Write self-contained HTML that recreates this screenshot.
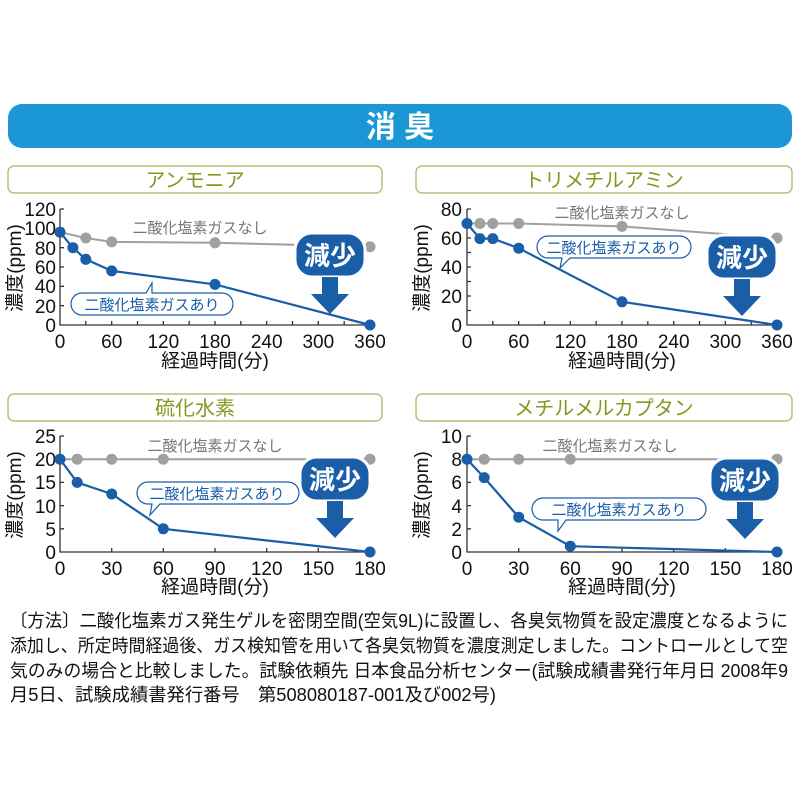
<!DOCTYPE html>
<html><head><meta charset="utf-8"><style>
html,body{margin:0;padding:0;background:#fff;width:800px;height:800px;overflow:hidden}
svg{display:block}
text{font-family:"Liberation Sans","Noto Sans CJK JP",sans-serif}
.t{font-size:19px;fill:#111}
.ax{stroke:#333;stroke-width:1.3;fill:none}
.g{stroke:#a0a0a0;stroke-width:2;fill:none}
.b{stroke:#1a5ea8;stroke-width:2.2;fill:none}
.gc{fill:#a0a0a0}
.bc{fill:#1a5ea8}
.ttl{font-size:20px;fill:#7f9a1e;text-anchor:middle}
.box{fill:#fff;stroke:#b8c07a;stroke-width:1.5}
.lab{font-size:15px;fill:#777;text-anchor:middle}
.blab{font-size:15px;fill:#1a5ea8;text-anchor:middle}
.bub{fill:#fff;stroke:#1a5ea8;stroke-width:1.2}
.foot{font-size:18px;fill:#111}
</style></head><body>
<svg width="800" height="800" viewBox="0 0 800 800" xmlns="http://www.w3.org/2000/svg">
<defs>
<g id="genshou">
  <rect x="-35" y="-23" width="70" height="44" rx="17" fill="#1a5ea8" stroke="#fff" stroke-width="3"/>
  <text x="0" y="9" font-size="26" font-weight="bold" fill="#fff" text-anchor="middle">減少</text>
  <path d="M-8,21 L8,21 L8,38 L19,38 L0,58 L-19,38 L-8,38 Z" fill="#1a5ea8"/>
</g>
</defs>
<rect x="8" y="104" width="784" height="44" rx="14" fill="#1b97d6"/>
<text x="400" y="137" font-size="30" font-weight="bold" fill="#fff" text-anchor="middle">消 臭</text>

<!-- Chart 1 -->
<rect class="box" x="8" y="166" width="374" height="27" rx="6"/>
<text class="ttl" x="195" y="187">アンモニア</text>
<path class="ax" d="M60,209 V325 H370"/>
<path class="ax" d="M60,305.7h4M60,286.3h4M60,267h4M60,247.7h4M60,228.3h4M60,209h4M85.8,325v-4M111.7,325v-4M137.5,325v-4M163.3,325v-4M189.2,325v-4M215,325v-4M240.8,325v-4M266.7,325v-4M292.5,325v-4M318.3,325v-4M344.2,325v-4"/>
<g class="t" text-anchor="end"><text x="56" y="332">0</text><text x="56" y="313">20</text><text x="56" y="293">40</text><text x="56" y="274">60</text><text x="56" y="255">80</text><text x="56" y="235">100</text><text x="56" y="216">120</text></g>
<g class="t" text-anchor="middle"><text x="60" y="348">0</text><text x="111.7" y="348">60</text><text x="163.3" y="348">120</text><text x="215" y="348">180</text><text x="266.7" y="348">240</text><text x="318.3" y="348">300</text><text x="370" y="348">360</text>
<text x="215" y="367">経過時間(分)</text></g>
<text class="t" transform="translate(21,268) rotate(-90)" text-anchor="middle">濃度(ppm)</text>
<polyline class="g" points="60,232.2 85.8,238 111.7,241.9 215,242.8 370,246.7"/>
<g class="gc"><circle cx="85.8" cy="238" r="5.5"/><circle cx="111.7" cy="241.9" r="5.5"/><circle cx="215" cy="242.8" r="5.5"/><circle cx="370" cy="246.7" r="5.5"/></g>
<polyline class="b" points="60,232.2 72.9,247.7 85.8,259.3 111.7,270.9 215,284.4 370,325"/>
<g class="bc"><circle cx="60" cy="232.2" r="5.5"/><circle cx="72.9" cy="247.7" r="5.5"/><circle cx="85.8" cy="259.3" r="5.5"/><circle cx="111.7" cy="270.9" r="5.5"/><circle cx="215" cy="284.4" r="5.5"/><circle cx="370" cy="325" r="5.5"/></g>
<text class="lab" x="200" y="233">二酸化塩素ガスなし</text>
<path class="bub" d="M82,293 H146 L152,283 L152,293 H222 a10,10 0 0 1 0,22 H82 a10,10 0 0 1 0,-22 Z"/>
<text class="blab" x="152" y="310">二酸化塩素ガスあり</text>
<use href="#genshou" x="330" y="256"/>

<!-- Chart 2 -->
<rect class="box" x="416" y="166" width="376" height="27" rx="6"/>
<text class="ttl" x="604" y="187">トリメチルアミン</text>
<path class="ax" d="M467,209 V325 H777"/>
<path class="ax" d="M467,310.5h4M467,296h4M467,281.5h4M467,267h4M467,252.5h4M467,238h4M467,223.5h4M467,209h4M492.8,325v-4M518.7,325v-4M544.5,325v-4M570.3,325v-4M596.2,325v-4M622,325v-4M647.8,325v-4M673.7,325v-4M699.5,325v-4M725.3,325v-4M751.2,325v-4"/>
<g class="t" text-anchor="end"><text x="462" y="332">0</text><text x="462" y="303">20</text><text x="462" y="274">40</text><text x="462" y="245">60</text><text x="462" y="216">80</text></g>
<g class="t" text-anchor="middle"><text x="467" y="348">0</text><text x="518.7" y="348">60</text><text x="570.3" y="348">120</text><text x="622" y="348">180</text><text x="673.7" y="348">240</text><text x="725.3" y="348">300</text><text x="777" y="348">360</text>
<text x="622" y="367">経過時間(分)</text></g>
<text class="t" transform="translate(428,268) rotate(-90)" text-anchor="middle">濃度(ppm)</text>
<polyline class="g" points="467,223.5 479.9,223.5 492.8,223.5 518.7,223.5 622,226.4 777,238"/>
<g class="gc"><circle cx="479.9" cy="223.5" r="5.5"/><circle cx="492.8" cy="223.5" r="5.5"/><circle cx="518.7" cy="223.5" r="5.5"/><circle cx="622" cy="226.4" r="5.5"/><circle cx="777" cy="238" r="5.5"/></g>
<polyline class="b" points="467,223.5 479.9,238.6 492.8,238.6 518.7,248.2 622,301.8 777,325"/>
<g class="bc"><circle cx="467" cy="223.5" r="5.5"/><circle cx="479.9" cy="238.6" r="5.5"/><circle cx="492.8" cy="238.6" r="5.5"/><circle cx="518.7" cy="248.2" r="5.5"/><circle cx="622" cy="301.8" r="5.5"/><circle cx="777" cy="325" r="5.5"/></g>
<text class="lab" x="622" y="218">二酸化塩素ガスなし</text>
<path class="bub" d="M548,236 H680 a10,10 0 0 1 0,22 H570 L560,268 L562,258 H548 a10,10 0 0 1 0,-22 Z"/>
<text class="blab" x="614" y="253">二酸化塩素ガスあり</text>
<use href="#genshou" x="742" y="258"/>

<!-- Chart 3 -->
<rect class="box" x="8" y="394" width="374" height="27" rx="6"/>
<text class="ttl" x="195" y="415">硫化水素</text>
<path class="ax" d="M60,436 V552 H370"/>
<path class="ax" d="M60,528.8h4M60,505.6h4M60,482.4h4M60,459.2h4M60,436h4M111.7,552v-4M163.3,552v-4M215,552v-4M266.7,552v-4M318.3,552v-4"/>
<g class="t" text-anchor="end"><text x="56" y="559">0</text><text x="56" y="536">5</text><text x="56" y="513">10</text><text x="56" y="489">15</text><text x="56" y="466">20</text><text x="56" y="443">25</text></g>
<g class="t" text-anchor="middle"><text x="60" y="575">0</text><text x="111.7" y="575">30</text><text x="163.3" y="575">60</text><text x="215" y="575">90</text><text x="266.7" y="575">120</text><text x="318.3" y="575">150</text><text x="370" y="575">180</text>
<text x="215" y="593">経過時間(分)</text></g>
<text class="t" transform="translate(21,495) rotate(-90)" text-anchor="middle">濃度(ppm)</text>
<polyline class="g" points="60,459.2 77.2,459.2 111.7,459.2 163.3,459.2 370,459.2"/>
<g class="gc"><circle cx="77.2" cy="459.2" r="5.5"/><circle cx="111.7" cy="459.2" r="5.5"/><circle cx="163.3" cy="459.2" r="5.5"/><circle cx="370" cy="459.2" r="5.5"/></g>
<polyline class="b" points="60,459.2 77.2,482.4 111.7,494 163.3,528.8 370,552"/>
<g class="bc"><circle cx="60" cy="459.2" r="5.5"/><circle cx="77.2" cy="482.4" r="5.5"/><circle cx="111.7" cy="494" r="5.5"/><circle cx="163.3" cy="528.8" r="5.5"/><circle cx="370" cy="552" r="5.5"/></g>
<text class="lab" x="215" y="451">二酸化塩素ガスなし</text>
<path class="bub" d="M148,482 H288 a10,10 0 0 1 0,22 H160 L150,515 L152,504 H148 a10,10 0 0 1 0,-22 Z"/>
<text class="blab" x="217" y="499">二酸化塩素ガスあり</text>
<use href="#genshou" x="335" y="480"/>

<!-- Chart 4 -->
<rect class="box" x="416" y="394" width="376" height="27" rx="6"/>
<text class="ttl" x="604" y="415">メチルメルカプタン</text>
<path class="ax" d="M467,436 V552 H777"/>
<path class="ax" d="M467,528.8h4M467,505.6h4M467,482.4h4M467,459.2h4M467,436h4M518.7,552v-4M570.3,552v-4M622,552v-4M673.7,552v-4M725.3,552v-4"/>
<g class="t" text-anchor="end"><text x="462" y="559">0</text><text x="462" y="536">2</text><text x="462" y="513">4</text><text x="462" y="489">6</text><text x="462" y="466">8</text><text x="462" y="443">10</text></g>
<g class="t" text-anchor="middle"><text x="467" y="575">0</text><text x="518.7" y="575">30</text><text x="570.3" y="575">60</text><text x="622" y="575">90</text><text x="673.7" y="575">120</text><text x="725.3" y="575">150</text><text x="777" y="575">180</text>
<text x="622" y="593">経過時間(分)</text></g>
<text class="t" transform="translate(428,495) rotate(-90)" text-anchor="middle">濃度(ppm)</text>
<polyline class="g" points="467,459.2 484.2,459.2 518.7,459.2 570.3,459.2 777,459.2"/>
<g class="gc"><circle cx="484.2" cy="459.2" r="5.5"/><circle cx="518.7" cy="459.2" r="5.5"/><circle cx="570.3" cy="459.2" r="5.5"/><circle cx="777" cy="459.2" r="5.5"/></g>
<polyline class="b" points="467,459.2 484.2,477.6 518.7,517.2 570.3,546.2 777,552"/>
<g class="bc"><circle cx="467" cy="459.2" r="5.5"/><circle cx="484.2" cy="477.6" r="5.5"/><circle cx="518.7" cy="517.2" r="5.5"/><circle cx="570.3" cy="546.2" r="5.5"/><circle cx="777" cy="552" r="5.5"/></g>
<text class="lab" x="610" y="451">二酸化塩素ガスなし</text>
<path class="bub" d="M543,498 H695 a10,10 0 0 1 0,22 H566 L558,531 L558,520 H543 a10,10 0 0 1 0,-22 Z"/>
<text class="blab" x="619" y="515">二酸化塩素ガスあり</text>
<use href="#genshou" x="745" y="481"/>

<!-- Footer -->
<text class="foot" x="10" y="627" textLength="778" lengthAdjust="spacingAndGlyphs">〔方法〕二酸化塩素ガス発生ゲルを密閉空間(空気9L)に設置し、各臭気物質を設定濃度となるように</text>
<text class="foot" x="10" y="652" textLength="778" lengthAdjust="spacingAndGlyphs">添加し、所定時間経過後、ガス検知管を用いて各臭気物質を濃度測定しました。コントロールとして空</text>
<text class="foot" x="10" y="677" textLength="778" lengthAdjust="spacingAndGlyphs">気のみの場合と比較しました。試験依頼先 日本食品分析センター(試験成績書発行年月日 2008年9</text>
<text class="foot" x="10" y="701" textLength="486" lengthAdjust="spacingAndGlyphs">月5日、試験成績書発行番号　第508080187-001及び002号)</text>
</svg>
</body></html>
